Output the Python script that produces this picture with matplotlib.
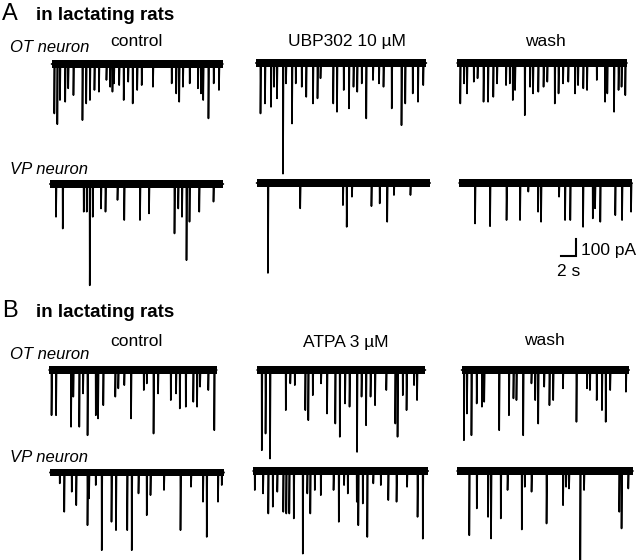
import numpy as np
import matplotlib
matplotlib.use("Agg")
import matplotlib.pyplot as plt

plt.rcParams["font.family"] = ["Liberation Sans", "DejaVu Sans"]

# event times (s) and peak amplitudes (pA)
a_ot_ctrl_t = [0.35, 0.75, 1.1, 1.8, 2.2, 2.9, 4.1, 4.6, 5.1, 5.7, 6.3, 7.3, 7.8, 8.1, 8.3, 9.0, 9.6,
               10.2, 10.8, 11.4, 12.0, 13.5, 16.0, 16.6, 17.0, 17.5, 18.4, 19.5, 19.9, 20.2, 20.9, 21.6, 22.3]
a_ot_ctrl_pa = [291, 354, 212, 222, 143, 183, 330, 232, 212, 153, 163, 94, 134, 163, 114, 124, 212,
                104, 232, 153, 124, 134, 114, 173, 222, 134, 114, 143, 173, 212, 320, 114, 153]
a_ot_ctrl_dur = 22.8

a_ot_ubp_t = [0.6, 1.2, 2.0, 2.4, 2.8, 3.6, 4.0, 4.8, 5.3, 6.1, 6.7, 7.6, 8.2, 8.6, 10.3, 10.8,
              11.7, 12.4, 13.0, 13.5, 14.1, 14.7, 15.6, 16.4, 17.0, 18.1, 19.4, 19.9, 20.9, 21.6, 22.3]
a_ot_ubp_pa = [297, 238, 258, 140, 208, 651, 120, 356, 120, 140, 199, 238, 208, 90, 238, 287,
               159, 267, 140, 169, 120, 326, 100, 120, 140, 267, 366, 238, 179, 228, 130]
a_ot_ubp_dur = 22.7

a_ot_wash_t = [0.4, 0.9, 1.3, 2.2, 2.7, 3.5, 4.1, 4.8, 5.3, 6.5, 7.0, 7.4, 7.7, 9.0, 9.7, 10.1, 10.8,
               11.5, 12.0, 13.0, 13.5, 14.1, 14.8, 15.7, 16.1, 16.8, 17.3, 18.6, 19.7, 20.0, 20.9, 21.5, 21.9, 22.4]
a_ot_wash_pa = [238, 120, 179, 110, 90, 228, 228, 199, 120, 130, 120, 218, 159, 307, 140, 179, 169,
                140, 110, 238, 179, 120, 110, 179, 130, 149, 159, 100, 228, 179, 287, 159, 140, 189]
a_ot_wash_dur = 22.6

a_vp_ctrl_t = [0.8, 1.7, 4.5, 4.9, 5.3, 5.7, 6.8, 7.4, 9.0, 9.9, 12.0, 13.2, 16.6, 17.1, 17.6, 18.2, 18.6, 19.9, 21.8]
a_vp_ctrl_pa = [193, 262, 163, 163, 596, 193, 144, 163, 94, 212, 212, 173, 291, 144, 193, 448, 222, 163, 104]
a_vp_ctrl_dur = 23.1

a_vp_ubp_t = [1.5, 5.8, 11.5, 12.0, 12.7, 15.3, 16.4, 17.4, 18.3, 20.5]
a_vp_ubp_pa = [529, 149, 130, 258, 81, 136, 120, 228, 71, 71]
a_vp_ubp_dur = 23.1

a_vp_wash_t = [2.1, 4.1, 6.3, 8.1, 9.2, 10.5, 10.9, 13.3, 14.1, 14.8, 16.5, 17.8, 18.1, 18.8, 20.8, 21.7, 22.9]
a_vp_wash_pa = [238, 254, 218, 218, 51, 169, 228, 81, 218, 218, 258, 208, 149, 228, 189, 218, 169]
a_vp_wash_dur = 23.0

b_ot_ctrl_t = [0.3, 0.9, 2.9, 3.2, 4.0, 4.5, 5.1, 6.2, 6.5, 7.2, 8.8, 9.2, 10.0, 10.9, 12.6, 13.0,
               13.9, 14.5, 16.2, 16.9, 17.4, 18.2, 19.2, 19.7, 20.1, 21.2, 22.0]
b_ot_ctrl_pa = [266, 266, 334, 157, 334, 138, 384, 266, 285, 207, 157, 108, 89, 285, 118, 79,
                374, 138, 177, 138, 226, 216, 187, 216, 98, 118, 354]
b_ot_ctrl_dur = 22.3

b_ot_atpa_t = [0.6, 1.1, 1.7, 3.8, 4.4, 5.0, 6.4, 6.8, 7.4, 8.5, 9.3, 10.4, 11.0, 11.7, 12.3, 13.3,
               13.9, 14.5, 15.1, 15.7, 17.2, 18.4, 18.7, 19.4, 19.9, 20.9, 21.3]
b_ot_atpa_pa = [472, 374, 521, 236, 79, 89, 236, 295, 148, 79, 256, 315, 393, 197, 216, 482,
                157, 325, 157, 207, 118, 315, 393, 148, 236, 89, 177]
b_ot_atpa_dur = 22.4

b_ot_wash_t = [0.3, 0.7, 1.3, 2.0, 2.7, 3.0, 5.0, 6.3, 6.9, 7.3, 8.2, 9.3, 9.8, 10.2, 11.0, 11.7,
               12.2, 13.5, 15.3, 16.7, 17.1, 18.0, 18.7, 19.2, 19.8, 21.9]
b_ot_wash_pa = [413, 256, 384, 197, 216, 187, 354, 266, 167, 177, 384, 79, 177, 315, 98, 207,
                177, 108, 305, 108, 118, 177, 236, 305, 118, 128]
b_ot_wash_dur = 22.3

b_vp_ctrl_t = [1.3, 1.9, 2.9, 3.5, 5.0, 5.2, 6.1, 6.9, 8.2, 8.8, 10.3, 10.9, 11.8, 12.9, 13.4, 15.2,
               17.4, 18.8, 20.4, 20.9, 22.4, 22.9]
b_vp_ctrl_pa = [64, 231, 113, 192, 310, 152, 74, 457, 290, 339, 339, 457, 123, 251, 133, 103,
                339, 84, 172, 379, 172, 74]
b_vp_ctrl_dur = 23.2

b_vp_atpa_t = [0.2, 1.3, 2.0, 2.6, 3.2, 4.0, 4.4, 4.8, 5.4, 6.6, 7.2, 7.6, 8.2, 9.0, 10.7, 11.4, 12.1,
               12.6, 13.8, 14.0, 14.6, 15.2, 16.0, 17.0, 18.0, 19.1, 20.5, 21.9, 22.6]
b_vp_atpa_pa = [112, 132, 250, 210, 122, 240, 250, 250, 279, 486, 132, 250, 112, 142, 112, 299, 83,
                132, 181, 319, 191, 388, 73, 83, 171, 181, 93, 270, 398]
b_vp_atpa_dur = 23.3

b_vp_wash_t = [1.6, 2.6, 4.1, 4.5, 5.8, 6.7, 8.6, 9.0, 9.9, 11.9, 14.1, 14.5, 14.9, 16.4, 16.9, 21.6, 21.9, 22.8]
b_vp_wash_pa = [378, 220, 270, 397, 279, 112, 344, 93, 122, 309, 201, 93, 103, 525, 112, 240, 338, 103]
b_vp_wash_dur = 23.4

# baseline noise half-width (pA)
ot_noise = 26
vp_noise = 21

scalebar_s = 2
scalebar_pa = 100

# figure layout (pixels)
W, H = 640, 560
PX_PER_S = 7.5
PX_PER_PA = 0.17

traces = [
    (a_ot_ctrl_t, a_ot_ctrl_pa, a_ot_ctrl_dur, ot_noise, (51.7, 64)),
    (a_ot_ubp_t, a_ot_ubp_pa, a_ot_ubp_dur, ot_noise, (256.0, 63)),
    (a_ot_wash_t, a_ot_wash_pa, a_ot_wash_dur, ot_noise, (457.3, 63)),
    (a_vp_ctrl_t, a_vp_ctrl_pa, a_vp_ctrl_dur, vp_noise, (50.0, 184)),
    (a_vp_ubp_t, a_vp_ubp_pa, a_vp_ubp_dur, vp_noise, (256.7, 183)),
    (a_vp_wash_t, a_vp_wash_pa, a_vp_wash_dur, vp_noise, (459.3, 183)),
    (b_ot_ctrl_t, b_ot_ctrl_pa, b_ot_ctrl_dur, ot_noise, (49.3, 370)),
    (b_ot_atpa_t, b_ot_atpa_pa, b_ot_atpa_dur, ot_noise, (257.3, 370)),
    (b_ot_wash_t, b_ot_wash_pa, b_ot_wash_dur, ot_noise, (461.7, 370)),
    (b_vp_ctrl_t, b_vp_ctrl_pa, b_vp_ctrl_dur, vp_noise, (50.0, 472.5)),
    (b_vp_atpa_t, b_vp_atpa_pa, b_vp_atpa_dur, vp_noise, (253.3, 471)),
    (b_vp_wash_t, b_vp_wash_pa, b_vp_wash_dur, vp_noise, (457.3, 471)),
]


def draw_trace(fig, t, pa, dur, noise, pos):
    x0, base = pos
    xlo, xhi, ylo, yhi = -0.5, 24.0, -700, 100
    ax = fig.add_axes([(x0 + xlo * PX_PER_S) / W,
                       1 - (base - ylo * PX_PER_PA) / H,
                       (xhi - xlo) * PX_PER_S / W,
                       (yhi - ylo) * PX_PER_PA / H])
    ax.set_xlim(xlo, xhi)
    ax.set_ylim(ylo, yhi)
    ax.axis("off")
    ax.patch.set_alpha(0)
    ax.fill_between([0, dur], -noise, noise, color="black", lw=0)
    xs, ys = [0], [0]
    for te, a in sorted(zip(t, pa)):
        xs += [te - 0.02, te, te + 0.07]
        ys += [0, -a, 0]
    xs.append(dur)
    ys.append(0)
    ax.plot(xs, ys, color="black", lw=1.2, clip_on=False)


def ftext(x, y, s, **kw):
    fig.text(x / W, 1 - y / H, s, va="baseline", **kw)


fig = plt.figure(figsize=(W / 100, H / 100), dpi=100)

for t, pa, dur, noise, pos in traces:
    draw_trace(fig, t, pa, dur, noise, pos)

# scale bar
sb = fig.add_axes([561 / W, 1 - 256 / H, scalebar_s * PX_PER_S / W, scalebar_pa * PX_PER_PA / H])
sb.set_xlim(0, scalebar_s)
sb.set_ylim(0, scalebar_pa)
sb.axis("off")
sb.plot([0, scalebar_s, scalebar_s], [0, 0, scalebar_pa], color="black", lw=1.5,
        clip_on=False, solid_joinstyle="miter")
ftext(581, 255, "%d pA" % scalebar_pa, fontsize=12.5)
ftext(569, 276, "%d s" % scalebar_s, fontsize=12.5, ha="center")

# panel labels and headings
for letter, y in [("A", 20.5), ("B", 316.7)]:
    ftext(2, y, letter, fontsize=17)
    ftext(36, y, "in lactating rats", fontsize=13.5, fontweight="bold")

ftext(10, 52, "OT neuron", fontsize=12, style="italic")
ftext(10, 174, "VP neuron", fontsize=12, style="italic")
ftext(10, 359, "OT neuron", fontsize=12, style="italic")
ftext(10, 461.5, "VP neuron", fontsize=12, style="italic")

ftext(136.5, 46, "control", fontsize=12.5, ha="center")
ftext(347, 46, "UBP302 10 µM", fontsize=12.5, ha="center")
ftext(545, 45.5, "wash", fontsize=12.5, ha="center")
ftext(136.5, 346, "control", fontsize=12.5, ha="center")
ftext(346, 346.5, "ATPA 3 µM", fontsize=12.5, ha="center")
ftext(544, 345, "wash", fontsize=12.5, ha="center")

fig.savefig("out.png", dpi=100)
